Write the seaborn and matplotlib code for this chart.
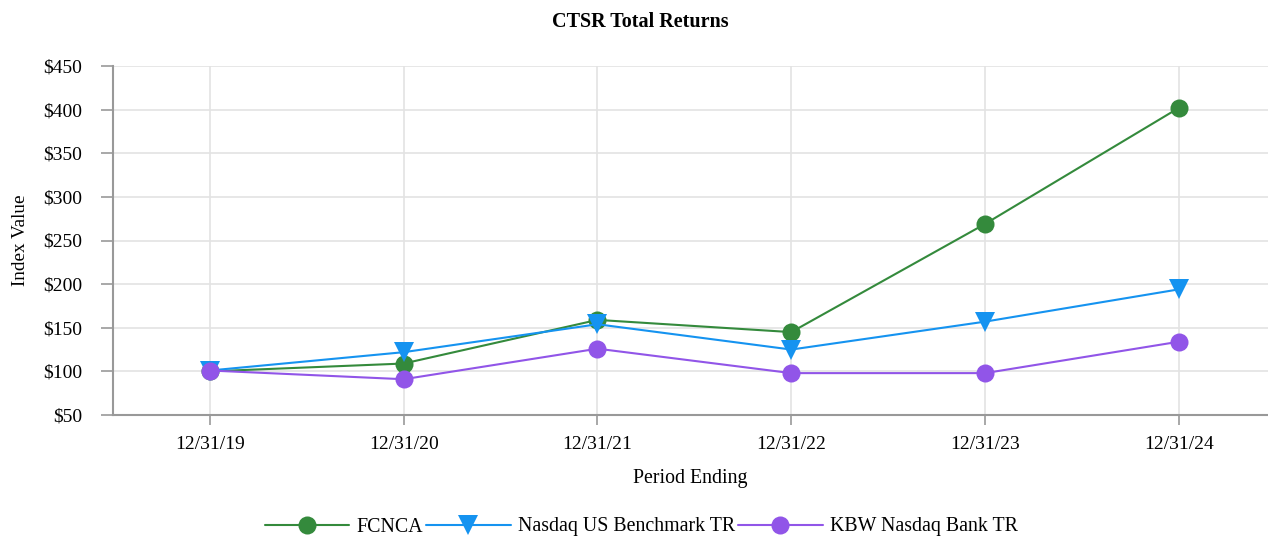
import pandas as pd
import seaborn as sns
import matplotlib.pyplot as plt

# Dados
periods = ["12/31/19", "12/31/20", "12/31/21", "12/31/22", "12/31/23", "12/31/24"]
fcnca = [100, 109, 159, 145, 269, 402]
nasdaq_us = [101, 122, 154, 125, 157, 194]
kbw_bank = [101, 91, 126, 98, 98, 134]

series_names = ["FCNCA", "Nasdaq US Benchmark TR", "KBW Nasdaq Bank TR"]
colors = ["#348a3c", "#1593f0", "#9155e8"]
markers = ["o", "v", "o"]

df = pd.DataFrame({
    "period": periods * 3,
    "value": fcnca + nasdaq_us + kbw_bank,
    "series": [s for s in series_names for _ in periods],
})
df["pos"] = [i for _ in series_names for i in range(len(periods))]

sns.set_style("white")
plt.rcParams["font.family"] = ["Liberation Serif", "DejaVu Serif"]
plt.rcParams["text.color"] = "black"
plt.rcParams["axes.labelcolor"] = "black"

fig = plt.figure(figsize=(12.68, 5.36), dpi=100)
ax = fig.add_axes([113 / 1268, 1 - 415 / 536, 1 - 113 / 1268, (415 - 66) / 536])

sns.lineplot(data=df, x="pos", y="value", hue="series", style="series",
             hue_order=series_names, style_order=series_names,
             palette=dict(zip(series_names, colors)),
             markers=dict(zip(series_names, markers)), dashes=False,
             markersize=13, markeredgewidth=0, linewidth=1.5, ax=ax)

# triângulos um pouco maiores, como no original
for ln in ax.lines:
    if ln.get_marker() == "v":
        ln.set_markersize(15)

ax.set_xlim(-0.5, 5.46)
ax.set_ylim(50, 450)
ax.set_xticks(range(len(periods)))
ax.set_xticklabels(periods)
ax.set_yticks(range(50, 451, 50))
ax.set_yticklabels([f"${v}" for v in range(50, 451, 50)])
ax.tick_params(axis="both", labelsize=14, labelcolor="black", color="#999999",
               direction="out", bottom=True, left=True, width=1.2)
ax.tick_params(axis="y", length=9, pad=13)
ax.tick_params(axis="x", length=7, pad=8)
ax.grid(True, color="#e3e3e3", linewidth=1.2)
ax.set_axisbelow(True)
for side in ["top", "right"]:
    ax.spines[side].set_visible(False)
for side in ["left", "bottom"]:
    ax.spines[side].set_color("#999999")
    ax.spines[side].set_linewidth(1.5)

ax.set_xlabel("Period Ending", fontsize=14.3, labelpad=12)
ax.set_ylabel("Index Value", fontsize=13.8)
ax.yaxis.set_label_coords(-0.0725, 0.5)
fig.text(0.505, 1 - 22 / 536, "CTSR Total Returns", ha="center", va="center",
         fontsize=14.5, fontweight="bold")

handles, labels = ax.get_legend_handles_labels()
for h in handles:
    h.set_markersize(15 if h.get_marker() == "v" else 13)
ax.legend(handles, labels, loc="center", bbox_to_anchor=((641 - 113) / 1155, (415 - 527) / 349),
          ncol=3, frameon=False, fontsize=14.3, handlelength=4.27,
          columnspacing=0.15, handletextpad=0.35)

fig.savefig("out.png", dpi=100)
